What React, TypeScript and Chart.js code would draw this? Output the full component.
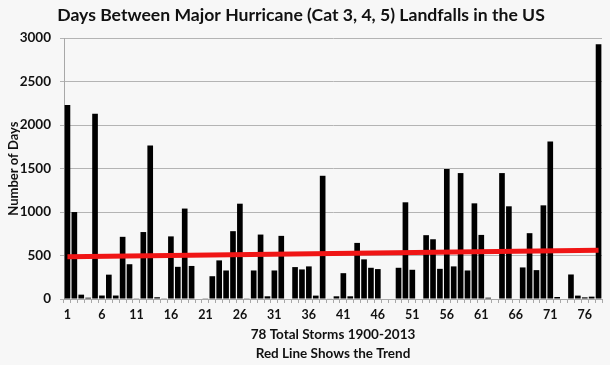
import React, { useEffect, useRef } from "react";
import { Chart, registerables } from "chart.js";
Chart.register(...registerables);

const categories: string[] = Array.from({ length: 78 }, (_, i) => String(i + 1));

const daysBetween: number[] = [
  2230, 1000, 50, 15, 2130, 40, 280, 40, 715, 400,
  8, 770, 1765, 20, 8, 720, 370, 1040, 380, 0,
  8, 262, 444, 328, 780, 1096, 8, 328, 741, 31,
  328, 726, 0, 367, 340, 375, 39, 1417, 5, 31,
  297, 31, 645, 456, 359, 344, 0, 0, 359, 1112,
  336, 0, 734, 687, 347, 1494, 375, 1448, 328, 1100,
  737, 15, 0, 1448, 1066, 0, 363, 757, 332, 1077,
  1811, 23, 0, 282, 39, 19, 27, 2930,
];

const trendStart = 485;
const trendEnd = 560;

const yTicks: number[] = [0, 500, 1000, 1500, 2000, 2500, 3000];

const titleText = "Days Between Major Hurricane (Cat 3, 4, 5) Landfalls in the US";
const xTitle = ["78 Total Storms 1900-2013", "Red Line Shows the Trend"];
const yTitle = "Number of Days";

const FONT = "Lato, 'Open Sans', sans-serif";

export default function App() {
  const ref = useRef<HTMLCanvasElement | null>(null);
  useEffect(() => {
    document.body.style.margin = "0";
    const canvas = ref.current!;
    const trendData = categories.map((_, i) =>
      i === 0 ? trendStart : i === categories.length - 1 ? trendEnd : null
    );
    const bgPlugin = {
      id: "bg",
      beforeDraw(chart: any) {
        const { ctx, width, height } = chart;
        ctx.save();
        ctx.fillStyle = "#f7f7f7";
        ctx.fillRect(0, 0, width, height);
        ctx.restore();
      },
    };
    const chart = new Chart(canvas, {
      data: {
        labels: categories,
        datasets: [
          {
            type: "line",
            data: trendData as any,
            borderColor: "#f01515",
            borderWidth: 5,
            pointRadius: 0,
            spanGaps: true,
            order: 0,
          },
          {
            type: "bar",
            data: daysBetween,
            backgroundColor: "#000000",
            barPercentage: 0.82,
            categoryPercentage: 1,
            order: 1,
          },
        ],
      },
      options: {
        responsive: false,
        animation: false,
        layout: { padding: { left: 0, right: 8, top: 0, bottom: 0 } },
        plugins: {
          legend: { display: false },
          tooltip: { enabled: false },
          title: {
            display: true,
            text: titleText,
            color: "#111",
            font: { family: FONT, size: 17.6, weight: "bold" },
            padding: { top: 5, bottom: 12 },
          },
        },
        scales: {
          x: {
            offset: true,
            grid: {
              offset: true,
              drawOnChartArea: false,
              tickLength: 4,
              color: "#a8a8a8",
            },
            border: { color: "#a8a8a8" },
            ticks: {
              autoSkip: false,
              maxRotation: 0,
              minRotation: 0,
              padding: 4,
              color: "#111",
              font: { family: FONT, size: 12.5, weight: "bold" },
              callback: (_v: any, i: number) => (i % 5 === 0 ? categories[i] : ""),
            },
            title: {
              display: true,
              text: xTitle,
              color: "#111",
              font: { family: FONT, size: 13.5, weight: "bold", lineHeight: 1.4 },
              padding: { top: 0, bottom: 2 },
            },
            afterFit: (s: any) => {
              s.height = 66;
            },
          },
          y: {
            min: 0,
            max: 3000,
            afterBuildTicks: (s: any) => {
              s.ticks = yTicks.map((v) => ({ value: v }));
            },
            grid: { color: "#b4b4b4", tickLength: 4 },
            border: { color: "#a8a8a8" },
            ticks: {
              padding: 9,
              color: "#111",
              font: { family: FONT, size: 13.5, weight: "bold" },
              callback: (v: any) => String(v),
            },
            title: {
              display: true,
              text: yTitle,
              color: "#111",
              font: { family: FONT, size: 13, weight: "bold" },
              padding: { top: 6, bottom: 0 },
            },
            afterFit: (s: any) => {
              s.width = 64;
            },
          },
        },
      } as any,
      plugins: [bgPlugin],
    });
    return () => chart.destroy();
  }, []);
  return (
    <div style={{ position: "fixed", left: 0, top: 0, width: 610, height: 365 }}>
      <canvas ref={ref} width={610} height={365} />
    </div>
  );
}
